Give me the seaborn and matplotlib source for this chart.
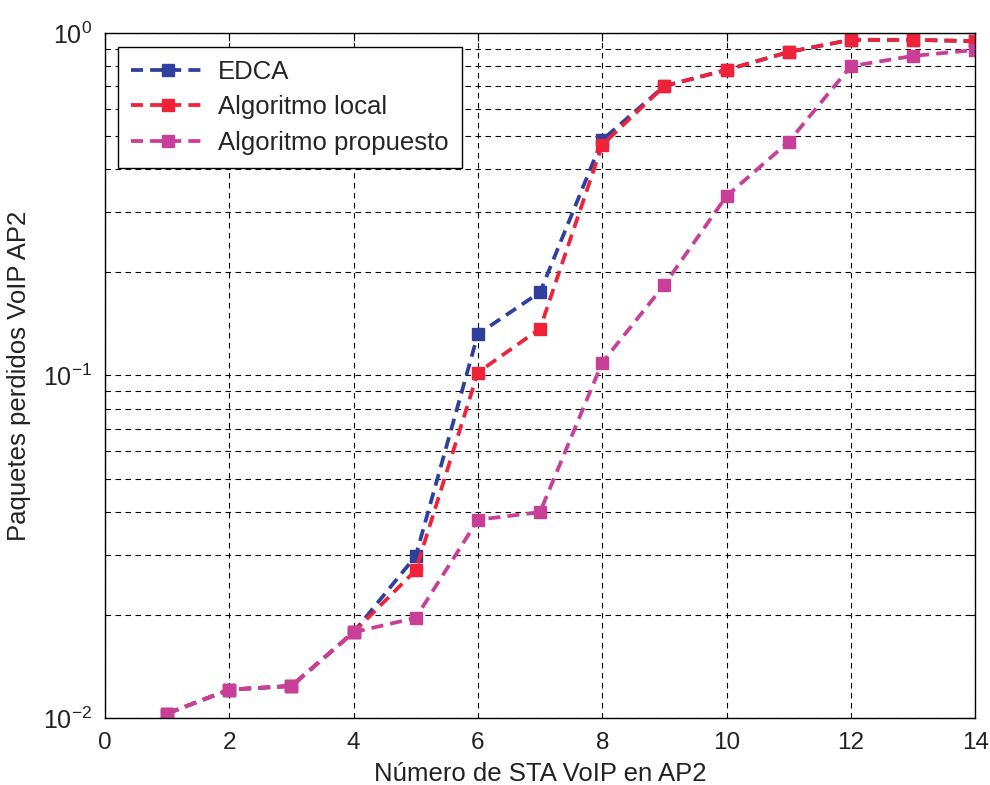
import numpy as np
import pandas as pd
import matplotlib
matplotlib.use("Agg")
import matplotlib.pyplot as plt
from matplotlib.ticker import LogLocator, FixedLocator, NullFormatter
import seaborn as sns

# Number of VoIP stations in AP2
n_sta = [1, 2, 3, 4, 5, 6, 7, 8, 9, 10, 11, 12, 13, 14]

# Packet loss ratio per scheme
edca = [0.0103, 0.0121, 0.0124, 0.0178, 0.0297, 0.132, 0.175, 0.487, 0.70, 0.78, 0.88, 0.955, 0.955, 0.946]
alg_local = [0.0103, 0.0121, 0.0124, 0.0178, 0.0270, 0.102, 0.137, 0.471, 0.70, 0.78, 0.88, 0.955, 0.955, 0.946]
alg_propuesto = [0.0103, 0.0121, 0.0124, 0.0178, 0.0196, 0.0379, 0.0399, 0.109, 0.184, 0.334, 0.481, 0.80, 0.857, 0.892]

series_names = ["EDCA", "Algoritmo local", "Algoritmo propuesto"]
series_colors = ["#2E3F9E", "#EE2238", "#C93F98"]

x_ticks = [0, 2, 4, 6, 8, 10, 12, 14]

df = pd.DataFrame({
    "x": n_sta * 3,
    "y": edca + alg_local + alg_propuesto,
    "serie": [series_names[0]] * len(n_sta)
             + [series_names[1]] * len(n_sta)
             + [series_names[2]] * len(n_sta),
})

sns.set_theme(style="white")
plt.rcParams["font.family"] = ["Liberation Sans", "DejaVu Sans"]
plt.rcParams["mathtext.fontset"] = "custom"
plt.rcParams["mathtext.rm"] = "Liberation Sans"
plt.rcParams["mathtext.it"] = "Liberation Sans"

fig = plt.figure(figsize=(9.9, 7.85), dpi=100)
ax = fig.add_axes([0.106, 0.0854, 0.879, 0.8726])

dash = (0, (3.2, 1.9))
lw = 2.7
msize = 8

sns.lineplot(
    data=df, x="x", y="y", hue="serie", hue_order=series_names,
    palette=dict(zip(series_names, series_colors)),
    marker="s", markersize=msize, markeredgewidth=1.0,
    linewidth=lw, ax=ax, legend=False, sort=False,
)
for line, c in zip(ax.get_lines(), series_colors):
    line.set_linestyle(dash)
    line.set_markerfacecolor(c)
    line.set_markeredgecolor(c)

ax.set_yscale("log")
ax.set_xlim(0, 14)
ax.set_ylim(1e-2, 1)
ax.xaxis.set_major_locator(FixedLocator(x_ticks))
ax.set_xticklabels([str(t) for t in x_ticks])
ax.yaxis.set_major_locator(LogLocator(base=10, numticks=10))
ax.yaxis.set_minor_locator(LogLocator(base=10, subs=np.arange(2, 10), numticks=20))
ax.yaxis.set_minor_formatter(NullFormatter())

ax.grid(True, which="major", axis="both", color="black", linestyle=(0, (5, 4)), linewidth=0.8)
ax.grid(True, which="minor", axis="y", color="black", linestyle=(0, (5, 4)), linewidth=0.8)

ax.tick_params(axis="both", which="both", direction="in", top=True, right=True,
               colors="black", labelcolor="#222222")
ax.tick_params(axis="x", which="major", length=6, width=0.8, labelsize=17.5, pad=10)
ax.tick_params(axis="y", which="major", length=6, width=0.8, labelsize=18, pad=9)
ax.tick_params(axis="y", which="minor", length=3.5, width=0.8)
for sp in ax.spines.values():
    sp.set_color("black")
    sp.set_linewidth(1.0)
    sp.set_visible(True)

ax.set_xlabel("Número de STA VoIP en AP2", fontsize=18.5, labelpad=6, color="#222222")
ax.set_ylabel("Paquetes perdidos VoIP AP2", fontsize=18.5, color="#222222")
ax.yaxis.set_label_coords(-0.085, 0.5)

handles = [
    plt.Line2D([], [], color=c, linestyle=dash, linewidth=lw,
               marker="s", markersize=msize, markerfacecolor=c, markeredgecolor=c)
    for c in series_colors
]
leg = ax.legend(handles, series_names, loc="upper left",
                bbox_to_anchor=(13 / 870, 1 - 14 / 685), borderaxespad=0,
                fontsize=18.5, frameon=True, fancybox=False, framealpha=1,
                edgecolor="black", handlelength=2.9, handletextpad=0.5,
                borderpad=0.5, labelspacing=0.45)
leg.get_frame().set_linewidth(1.0)

fig.savefig("out.png", dpi=100)
